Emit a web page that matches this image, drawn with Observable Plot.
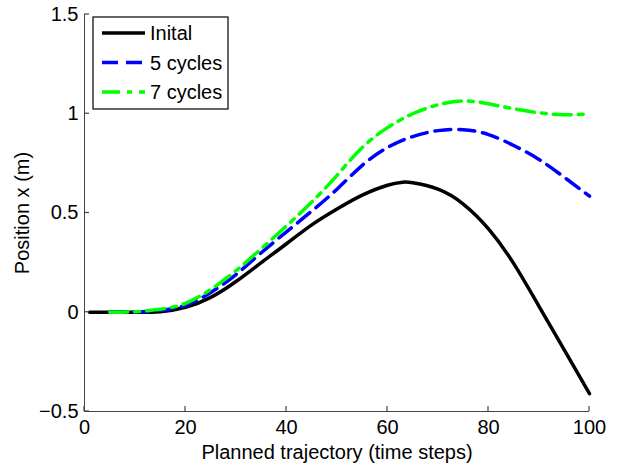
<!DOCTYPE html>
<html>
<head>
<meta charset="utf-8">
<script src="https://cdn.jsdelivr.net/npm/d3@7"></script>
<script src="https://cdn.jsdelivr.net/npm/@observablehq/plot@0.6"></script>
<style>
  html, body { margin: 0; padding: 0; background: #fff; }
  #chart { position: relative; width: 619px; height: 466px; }
</style>
</head>
<body>
<div id="chart"></div>
<script>
// ---- data ----
const seriesNames = ["Inital", "5 cycles", "7 cycles"];

const initialSteps = [1, 5, 10, 15, 20, 25, 30, 35, 40, 45, 50, 55, 60, 63, 65, 70, 75, 80, 85, 90, 95, 100];
const initialValues = [0, 0, 0, 0.003, 0.025, 0.075, 0.155, 0.25, 0.345, 0.44, 0.52, 0.59, 0.64, 0.655, 0.652, 0.62, 0.545, 0.42, 0.245, 0.03, -0.19, -0.41];

const cycleSteps = [5, 10, 15, 20, 25, 30, 35, 40, 45, 50, 55, 60, 65, 70, 75, 80, 85, 90, 95, 100];
const cycles5Values = [0, 0.002, 0.01, 0.035, 0.10, 0.19, 0.30, 0.405, 0.51, 0.62, 0.74, 0.83, 0.885, 0.915, 0.92, 0.895, 0.84, 0.77, 0.68, 0.585];
const cycles7Values = [0, 0.003, 0.015, 0.045, 0.115, 0.21, 0.32, 0.435, 0.555, 0.69, 0.83, 0.93, 1.00, 1.045, 1.065, 1.05, 1.025, 1.005, 0.995, 1.0];

const xTicks = [0, 20, 40, 60, 80, 100];
const yTicks = [-0.5, 0, 0.5, 1, 1.5];

const xLabel = "Planned trajectory (time steps)";
const yLabel = "Position x (m)";

// ---- styles ----
const styles = [
  {stroke: "#000000", dash: null},
  {stroke: "#0000ff", dash: "16,8"},
  {stroke: "#00ff00", dash: "18,7,5,7"}
];
const lineWidth = 3.5;
const axisColor = "#444";
const tickLength = 5;
const font = "'Liberation Sans', Arial, Helvetica, sans-serif";
const fmt = d => String(d).replace("-", "\u2212");

const rows = [];
initialSteps.forEach((t, i) => rows.push({series: seriesNames[0], t, v: initialValues[i]}));
cycleSteps.forEach((t, i) => rows.push({series: seriesNames[1], t, v: cycles5Values[i]}));
cycleSteps.forEach((t, i) => rows.push({series: seriesNames[2], t, v: cycles7Values[i]}));

const lineMarks = seriesNames.map((name, k) =>
  Plot.line(rows.filter(d => d.series === name), {
    x: "t", y: "v",
    stroke: styles[k].stroke,
    strokeWidth: lineWidth,
    strokeDasharray: styles[k].dash,
    curve: "natural"
  })
);

const chart = Plot.plot({
  width: 619,
  height: 466,
  marginLeft: 84,
  marginRight: 30,
  marginTop: 14,
  marginBottom: 55,
  style: {fontFamily: font, fontSize: "20px", color: "#000", background: "#fff", overflow: "visible"},
  x: {domain: [0, 100]},
  y: {domain: [-0.5, 1.5]},
  marks: [
    Plot.axisX({ticks: xTicks, tickSize: 0, tickPadding: 8, tickFormat: fmt, label: xLabel, labelAnchor: "center", labelArrow: "none", labelOffset: 47}),
    Plot.axisY({ticks: yTicks, tickSize: 0, tickPadding: 6, tickFormat: fmt, label: yLabel, labelAnchor: "center", labelArrow: "none", labelOffset: 70}),
    Plot.ruleX([0], {stroke: axisColor}),
    Plot.ruleY([-0.5], {stroke: axisColor}),
    ...lineMarks
  ]
});

document.getElementById("chart").appendChild(chart);

// ---- inward tick marks (MATLAB style), placed with the plot's own scales ----
const svg = d3.select(chart);
const xs = chart.scale("x"), ys = chart.scale("y");
const sx = d3.scaleLinear().domain(xs.domain).range(xs.range);
const sy = d3.scaleLinear().domain(ys.domain).range(ys.range);
const x0 = sx(xTicks[0]), y0 = sy(yTicks[0]);
const tg = svg.append("g").attr("fill", "none");
xTicks.forEach(t => {
  const px = sx(t);
  tg.append("path").attr("d", `M${px},${y0}V${y0 - tickLength}`)
    .attr("stroke", axisColor).attr("stroke-width", 1.2);
});
yTicks.forEach(t => {
  const py = sy(t);
  tg.append("path").attr("d", `M${x0},${py}H${x0 + tickLength}`)
    .attr("stroke", axisColor).attr("stroke-width", 1.2);
});

// ---- legend (inside the axes, upper left) ----
const lg = svg.append("g").attr("transform", "translate(93,17)");
lg.append("rect").attr("width", 135).attr("height", 92)
  .attr("fill", "#fff").attr("stroke", "#000").attr("stroke-width", 1.2);
seriesNames.forEach((name, k) => {
  const yy = 16 + k * 29.5;
  lg.append("line").attr("x1", 9).attr("x2", 52).attr("y1", yy).attr("y2", yy)
    .attr("stroke", styles[k].stroke).attr("stroke-width", lineWidth)
    .attr("stroke-dasharray", styles[k].dash);
  lg.append("text").attr("x", 57).attr("y", yy).attr("dy", "0.35em")
    .attr("text-anchor", "start")
    .attr("font-family", font).attr("font-size", 20).attr("fill", "#000")
    .text(name);
});
</script>
</body>
</html>
